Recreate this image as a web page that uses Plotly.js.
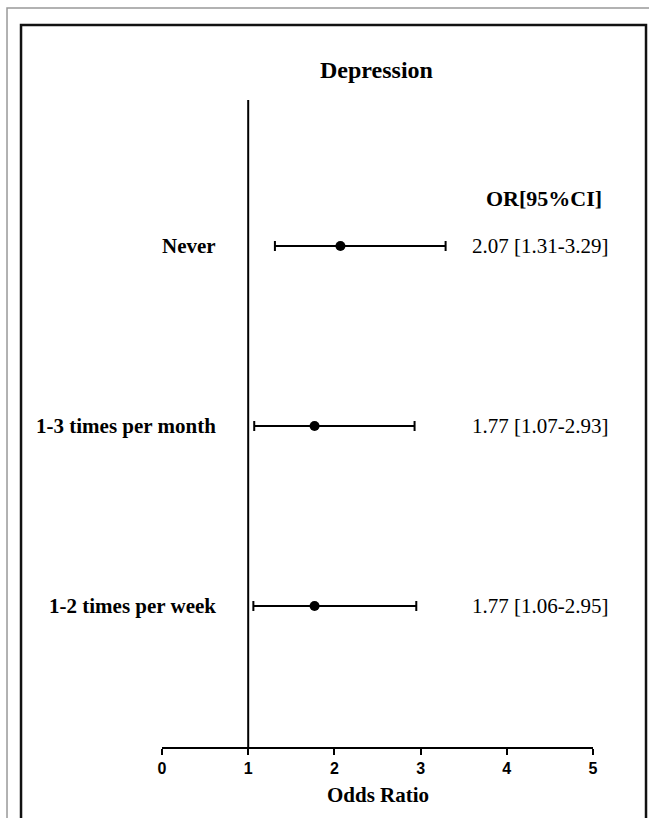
<!DOCTYPE html>
<html>
<head>
<meta charset="utf-8">
<script src="https://cdn.plot.ly/plotly-3.0.1.min.js"></script>
<style>html,body{margin:0;padding:0;background:#fff;}#chart{width:649px;height:818px;}</style>
</head>
<body>
<div id="chart"></div>
<script>
// Data
const categories = ["Never", "1-3 times per month", "1-2 times per week"];
const oddsRatio = [2.07, 1.77, 1.77];
const ciLower = [1.31, 1.07, 1.06];
const ciUpper = [3.29, 2.93, 2.95];
const orLabels = ["2.07 [1.31-3.29]", "1.77 [1.07-2.93]", "1.77 [1.06-2.95]"];
const xTicks = [0, 1, 2, 3, 4, 5];
const chartTitle = "Depression";
const columnHeader = "OR[95%CI]";
const xTitle = "Odds Ratio";

const serif = "Liberation Serif, Times New Roman, serif";
const sans = "Liberation Sans, Arial, sans-serif";

const trace = {
  type: "scatter",
  mode: "markers",
  x: oddsRatio,
  y: categories,
  marker: {color: "#000", size: 10},
  error_x: {
    type: "data",
    symmetric: false,
    array: oddsRatio.map((v, i) => ciUpper[i] - v),
    arrayminus: oddsRatio.map((v, i) => v - ciLower[i]),
    color: "#000",
    thickness: 2,
    width: 5
  },
  hoverinfo: "skip",
  cliponaxis: false
};

const annotations = [];
categories.forEach((c, i) => {
  annotations.push({
    xref: "x", yref: "y", x: 0.655, y: c, xanchor: "right", yanchor: "middle",
    text: c, showarrow: false,
    font: {family: serif, size: 21, color: "#000", weight: 700}
  });
  annotations.push({
    xref: "paper", yref: "y", x: 0.877, y: c, xanchor: "center", yanchor: "middle",
    text: orLabels[i], showarrow: false,
    font: {family: serif, size: 21, color: "#000"}
  });
});
annotations.push({
  xref: "paper", yref: "paper", x: 0.4988, y: 1.0464, xanchor: "center", yanchor: "middle",
  text: chartTitle, showarrow: false,
  font: {family: serif, size: 24, color: "#000", weight: 700}
});
annotations.push({
  xref: "paper", yref: "paper", x: 0.886, y: 0.8485, xanchor: "center", yanchor: "middle",
  text: columnHeader, showarrow: false,
  font: {family: serif, size: 22, color: "#000", weight: 700}
});
annotations.push({
  xref: "paper", yref: "paper", x: 0.5, y: -0.0742, xanchor: "center", yanchor: "middle",
  text: xTitle, showarrow: false,
  font: {family: serif, size: 21, color: "#000", weight: 700}
});

const layout = {
  width: 649, height: 818,
  margin: {l: 162, r: 56, t: 100, b: 71},
  paper_bgcolor: "#fff", plot_bgcolor: "#fff",
  showlegend: false,
  xaxis: {
    range: [0, 5], tickvals: xTicks, ticktext: xTicks.map(String),
    showline: true, linecolor: "#000", linewidth: 2,
    ticks: "outside", ticklen: 6, tickwidth: 2, tickcolor: "#000",
    showgrid: false, zeroline: false,
    tickfont: {family: sans, size: 16, color: "#000", weight: 700}
  },
  yaxis: {
    type: "category", categoryarray: categories, categoryorder: "array",
    range: [2.783, -0.811],
    showticklabels: false, showline: false, showgrid: false, zeroline: false, ticks: ""
  },
  shapes: [
    {type: "line", xref: "x", yref: "paper", x0: 1, x1: 1, y0: 0, y1: 1,
     line: {color: "#000", width: 2}},
    {type: "rect", xref: "paper", yref: "paper", x0: -0.3596, x1: 1.3, y0: -0.3, y1: 1.1422,
     line: {color: "#999", width: 1.5}},
    {type: "rect", xref: "paper", yref: "paper", x0: -0.3271, x1: 1.1230, y0: -0.3, y1: 1.1159,
     line: {color: "#111", width: 2.5}}
  ],
  annotations: annotations
};

Plotly.newPlot("chart", [trace], layout, {staticPlot: true, displayModeBar: false});
</script>
</body>
</html>
